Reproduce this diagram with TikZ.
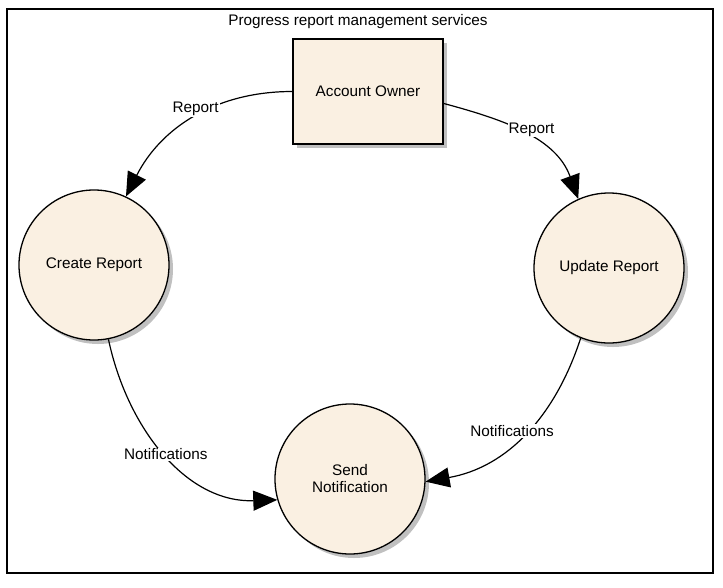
\documentclass[tikz,border=0pt]{standalone}
\usepackage{fontspec}
\setmainfont{Liberation Sans}
\usetikzlibrary{arrows.meta,shadows}
\definecolor{procfill}{RGB}{250,240,226}
\definecolor{shadowgray}{RGB}{192,192,192}
\begin{document}
\begin{tikzpicture}[x=1pt,y=-1pt,
  every node/.style={font=\fontsize{15.3}{17}\selectfont},
  shade under/.style={drop shadow={shadow xshift=4pt,shadow yshift=-4pt,fill=shadowgray,opacity=1}},
  process/.style={circle,draw,line width=1.3pt,fill=procfill,minimum size=150pt,inner sep=0pt,align=center,shade under},
  entity/.style={rectangle,draw,line width=1.6pt,fill=procfill,minimum width=150pt,minimum height=105pt,inner sep=0pt,shade under},
  flow/.style={line width=1.2pt,-{Triangle[length=24pt,width=20pt]}},
  flowlabel/.style={fill=white,inner sep=1pt}]
  \useasboundingbox (0,0) rectangle (723,587);
  % enclosing frame with its caption
  \draw[line width=1.3pt] (7,9) rectangle (713,573);
  \node (title) at (358,22) {Progress report management services};
  % external entity and processes
  \node[entity] (ao) at (368,91.5) {Account Owner};
  \node[process] (cr) at (94,265) {Create Report};
  \node[process] (ur) at (609,268) {Update Report};
  \node[process] (sn) at (350,479) {Send\\Notification};
  % data flows
  \draw[flow] (ao.west) to[out=180,in=63,looseness=1] node[flowlabel,pos=0.4,xshift=-15pt] {Report} (cr.65);
  \draw[flow] (ao.-9.5) to[out=-15,in=110,looseness=1] node[flowlabel,pos=0.46,xshift=11pt,yshift=2pt] {Report} (ur.114);
  \draw[flow] (cr.-79) to[out=-78,in=182,looseness=1] node[flowlabel,pos=0.5] {Notifications} (sn.196);
  \draw[flow] (ur.-112) to[out=-108,in=10,looseness=1] node[flowlabel,pos=0.5,xshift=-12pt,yshift=3pt] {Notifications} (sn.-2);
\end{tikzpicture}
\end{document}
